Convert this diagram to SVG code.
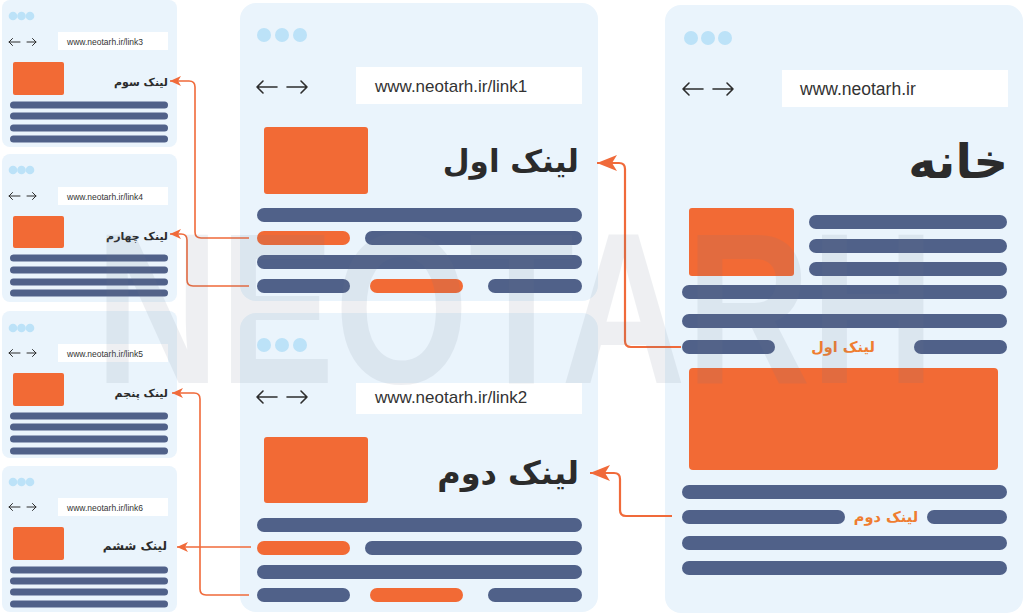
<svg xmlns="http://www.w3.org/2000/svg" width="1024" height="615" viewBox="0 0 1024 615">
<style>
.bg{fill:#ffffff}
.panel{fill:#eaf4fc}
.dot{fill:#bce2f8}
.bar{fill:#ffffff}
.ln{fill:#506189}
.or{fill:#f26a35}
.nav{stroke:#2d2d2d;stroke-width:1.6;fill:none;stroke-linecap:round;stroke-linejoin:round}
.navs{stroke:#2d2d2d;stroke-width:1;fill:none;stroke-linecap:round;stroke-linejoin:round}
.url{font-family:"Liberation Sans",Arial,sans-serif;fill:#333333}
.fa{font-family:"DejaVu Sans","Noto Sans",sans-serif;fill:#2b2b2b;font-weight:bold}
.fao{font-family:"DejaVu Sans","Noto Sans",sans-serif;fill:#ef7d30;font-weight:bold}
.conn{stroke:#f06a3a;fill:none;stroke-linejoin:round}
.wm{font-family:"Liberation Sans",Arial,sans-serif;font-weight:bold;fill:#6b7a90;opacity:0.11}
</style>
<defs>
<marker id="ah" markerUnits="userSpaceOnUse" markerWidth="20" markerHeight="16" refX="20" refY="8" orient="auto">
<path d="M0,0 L20,8 L0,16 L5,8 Z" fill="#f06a3a"/>
</marker>
<marker id="ahs" markerUnits="userSpaceOnUse" markerWidth="11" markerHeight="10" refX="11" refY="5" orient="auto">
<path d="M0,0 L11,5 L0,10 L3,5 Z" fill="#f06a3a"/>
</marker>
</defs>
<rect class="bg" x="0" y="0" width="1024" height="615"/>

<!-- Small panel: link3 -->
<g id="page-link3">
<rect class="panel" x="2" y="0" width="175" height="147" rx="8"/>
<circle class="dot" cx="13" cy="16" r="4.3"/><circle class="dot" cx="21.5" cy="16" r="4.3"/><circle class="dot" cx="30" cy="16" r="4.3"/>
<path class="navs" d="M20,42 H9 M12.5,38.5 L9,42 L12.5,45.5 M27,42 H36 M32.5,38.5 L36,42 L32.5,45.5"/>
<rect class="bar" x="58" y="32" width="110" height="18"/>
<text class="url" x="67" y="44.5" font-size="8.5">www.neotarh.ir/link3</text>
<rect class="or" x="13" y="62" width="51" height="33" rx="2"/>
<text class="fa" x="168" y="86" font-size="11" text-anchor="end">لینک سوم</text>
<rect class="ln" x="10" y="101.5" width="158" height="7" rx="3.5"/>
<rect class="ln" x="10" y="112.5" width="158" height="7" rx="3.5"/>
<rect class="ln" x="10" y="124.5" width="158" height="7" rx="3.5"/>
<rect class="ln" x="10" y="135.5" width="158" height="7" rx="3.5"/>
</g>

<!-- Small panel: link4 -->
<g id="page-link4">
<rect class="panel" x="2" y="154" width="175" height="148" rx="8"/>
<circle class="dot" cx="13" cy="170" r="4.3"/><circle class="dot" cx="21.5" cy="170" r="4.3"/><circle class="dot" cx="30" cy="170" r="4.3"/>
<path class="navs" d="M20,196 H9 M12.5,192.5 L9,196 L12.5,199.5 M27,196 H36 M32.5,192.5 L36,196 L32.5,199.5"/>
<rect class="bar" x="58" y="187" width="110" height="18"/>
<text class="url" x="67" y="199.5" font-size="8.5">www.neotarh.ir/link4</text>
<rect class="or" x="13" y="216" width="51" height="32" rx="2"/>
<text class="fa" x="168" y="240" font-size="11" text-anchor="end">لینک چهارم</text>
<rect class="ln" x="10" y="254.5" width="158" height="7" rx="3.5"/>
<rect class="ln" x="10" y="266.5" width="158" height="7" rx="3.5"/>
<rect class="ln" x="10" y="278.5" width="158" height="7" rx="3.5"/>
<rect class="ln" x="10" y="289.5" width="158" height="7" rx="3.5"/>
</g>

<!-- Small panel: link5 -->
<g id="page-link5">
<rect class="panel" x="2" y="311" width="175" height="147" rx="8"/>
<circle class="dot" cx="13" cy="328" r="4.3"/><circle class="dot" cx="21.5" cy="328" r="4.3"/><circle class="dot" cx="30" cy="328" r="4.3"/>
<path class="navs" d="M20,353 H9 M12.5,349.5 L9,353 L12.5,356.5 M27,353 H36 M32.5,349.5 L36,353 L32.5,356.5"/>
<rect class="bar" x="58" y="344" width="110" height="18"/>
<text class="url" x="67" y="356.5" font-size="8.5">www.neotarh.ir/link5</text>
<rect class="or" x="13" y="373" width="51" height="33" rx="2"/>
<text class="fa" x="168" y="397" font-size="11" text-anchor="end">لینک پنجم</text>
<rect class="ln" x="10" y="412.5" width="158" height="7" rx="3.5"/>
<rect class="ln" x="10" y="423.5" width="158" height="7" rx="3.5"/>
<rect class="ln" x="10" y="435.5" width="158" height="7" rx="3.5"/>
<rect class="ln" x="10" y="447.5" width="158" height="7" rx="3.5"/>
</g>

<!-- Small panel: link6 -->
<g id="page-link6">
<rect class="panel" x="2" y="466" width="175" height="146" rx="8"/>
<circle class="dot" cx="13" cy="482" r="4.3"/><circle class="dot" cx="21.5" cy="482" r="4.3"/><circle class="dot" cx="30" cy="482" r="4.3"/>
<path class="navs" d="M20,507 H9 M12.5,503.5 L9,507 L12.5,510.5 M27,507 H36 M32.5,503.5 L36,507 L32.5,510.5"/>
<rect class="bar" x="58" y="498" width="110" height="18"/>
<text class="url" x="67" y="510.5" font-size="8.5">www.neotarh.ir/link6</text>
<rect class="or" x="13" y="527" width="51" height="33" rx="2"/>
<text class="fa" x="167" y="550" font-size="12" text-anchor="end">لینک ششم</text>
<rect class="ln" x="10" y="566.5" width="158" height="7" rx="3.5"/>
<rect class="ln" x="10" y="577.5" width="158" height="7" rx="3.5"/>
<rect class="ln" x="10" y="588.5" width="158" height="7" rx="3.5"/>
<rect class="ln" x="10" y="600.5" width="158" height="7" rx="3.5"/>
</g>

<!-- Middle panel: link1 -->
<g id="page-link1">
<rect class="panel" x="240" y="3" width="358" height="298" rx="16"/>
<circle class="dot" cx="264" cy="35" r="7"/><circle class="dot" cx="282" cy="35" r="7"/><circle class="dot" cx="300" cy="35" r="7"/>
<path class="nav" d="M277,87 H257 M263,81 L257,87 L263,93 M287,87 H307 M301,81 L307,87 L301,93"/>
<rect class="bar" x="356" y="67" width="226" height="37"/>
<text class="url" x="375" y="92" font-size="17">www.neotarh.ir/link1</text>
<rect class="or" x="264" y="127" width="104" height="67" rx="3"/>
<text class="fa" x="579" y="172" font-size="31" text-anchor="end">لینک اول</text>
<rect class="ln" x="257" y="208" width="325" height="14" rx="7"/>
<rect class="or" x="257" y="231" width="93" height="14" rx="7"/>
<rect class="ln" x="365" y="231" width="217" height="14" rx="7"/>
<rect class="ln" x="257" y="255" width="325" height="14" rx="7"/>
<rect class="ln" x="257" y="279" width="93" height="14" rx="7"/>
<rect class="or" x="370" y="279" width="93" height="14" rx="7"/>
<rect class="ln" x="488" y="279" width="94" height="14" rx="7"/>
</g>

<!-- Middle panel: link2 -->
<g id="page-link2">
<rect class="panel" x="240" y="313" width="358" height="299" rx="16"/>
<circle class="dot" cx="264" cy="345" r="7"/><circle class="dot" cx="282" cy="345" r="7"/><circle class="dot" cx="300" cy="345" r="7"/>
<path class="nav" d="M277,397 H257 M263,391 L257,397 L263,403 M287,397 H307 M301,391 L307,397 L301,403"/>
<rect class="bar" x="356" y="383" width="226" height="31"/>
<text class="url" x="375" y="403" font-size="17">www.neotarh.ir/link2</text>
<rect class="or" x="264" y="437" width="104" height="66" rx="3"/>
<text class="fa" x="579" y="484" font-size="32" text-anchor="end">لینک دوم</text>
<rect class="ln" x="257" y="518" width="325" height="14" rx="7"/>
<rect class="or" x="257" y="541" width="93" height="14" rx="7"/>
<rect class="ln" x="365" y="541" width="217" height="14" rx="7"/>
<rect class="ln" x="257" y="565" width="325" height="14" rx="7"/>
<rect class="ln" x="257" y="588" width="93" height="14" rx="7"/>
<rect class="or" x="370" y="588" width="93" height="14" rx="7"/>
<rect class="ln" x="488" y="588" width="94" height="14" rx="7"/>
</g>

<!-- Home panel -->
<g id="page-home">
<rect class="panel" x="665" y="5" width="358" height="608" rx="16"/>
<circle class="dot" cx="691" cy="38" r="7"/><circle class="dot" cx="708" cy="38" r="7"/><circle class="dot" cx="725" cy="38" r="7"/>
<path class="nav" d="M703,89 H683 M689,83 L683,89 L689,95 M713,89 H733 M727,83 L733,89 L727,95"/>
<rect class="bar" x="782" y="70" width="226" height="37"/>
<text class="url" x="800" y="95" font-size="17.5">www.neotarh.ir</text>
<text class="fa" x="1008" y="178" font-size="48" text-anchor="end">خانه</text>
<rect class="or" x="689" y="208" width="105" height="68" rx="3"/>
<rect class="ln" x="809" y="215" width="198" height="14" rx="7"/>
<rect class="ln" x="809" y="239" width="198" height="14" rx="7"/>
<rect class="ln" x="809" y="262" width="198" height="14" rx="7"/>
<rect class="ln" x="682" y="285" width="325" height="14" rx="7"/>
<rect class="ln" x="682" y="314" width="325" height="14" rx="7"/>
<rect class="ln" x="682" y="340" width="93" height="14" rx="7"/>
<text class="fao" x="843" y="352" font-size="14.5" text-anchor="middle">لینک اول</text>
<rect class="ln" x="914" y="340" width="93" height="14" rx="7"/>
<rect class="or" x="689" y="368" width="309" height="102" rx="4"/>
<rect class="ln" x="682" y="485" width="325" height="14" rx="7"/>
<rect class="ln" x="682" y="510" width="163" height="14" rx="7"/>
<text class="fao" x="886" y="522" font-size="14.5" text-anchor="middle">لینک دوم</text>
<rect class="ln" x="927" y="510" width="80" height="14" rx="7"/>
<rect class="ln" x="682" y="536" width="325" height="14" rx="7"/>
<rect class="ln" x="682" y="561" width="325" height="14" rx="7"/>
</g>

<!-- Connectors -->
<g id="connectors">
<path class="conn" stroke-width="1.6" marker-end="url(#ahs)" d="M249,238 H201 Q195,238 195,232 V87 Q195,81 189,81 H170"/>
<path class="conn" stroke-width="1.6" marker-end="url(#ahs)" d="M249,286 H193 Q187,286 187,280 V240 Q187,234 181,234 H170"/>
<path class="conn" stroke-width="1.6" marker-end="url(#ahs)" d="M249,595 H206 Q200,595 200,589 V399 Q200,393 194,393 H172"/>
<path class="conn" stroke-width="1.6" marker-end="url(#ahs)" d="M251,547 H177"/>
<path class="conn" stroke-width="2.2" marker-end="url(#ah)" d="M681,347 H631 Q625,347 625,341 V169 Q625,163 619,163 H597"/>
<path class="conn" stroke-width="2.2" marker-end="url(#ah)" d="M672,516 H626 Q620,516 620,510 V479 Q620,473 614,473 H590"/>
</g>

<!-- Watermark -->
<text class="wm" x="95" y="383" font-size="215" textLength="840" lengthAdjust="spacingAndGlyphs">NEOTARH</text>
</svg>
